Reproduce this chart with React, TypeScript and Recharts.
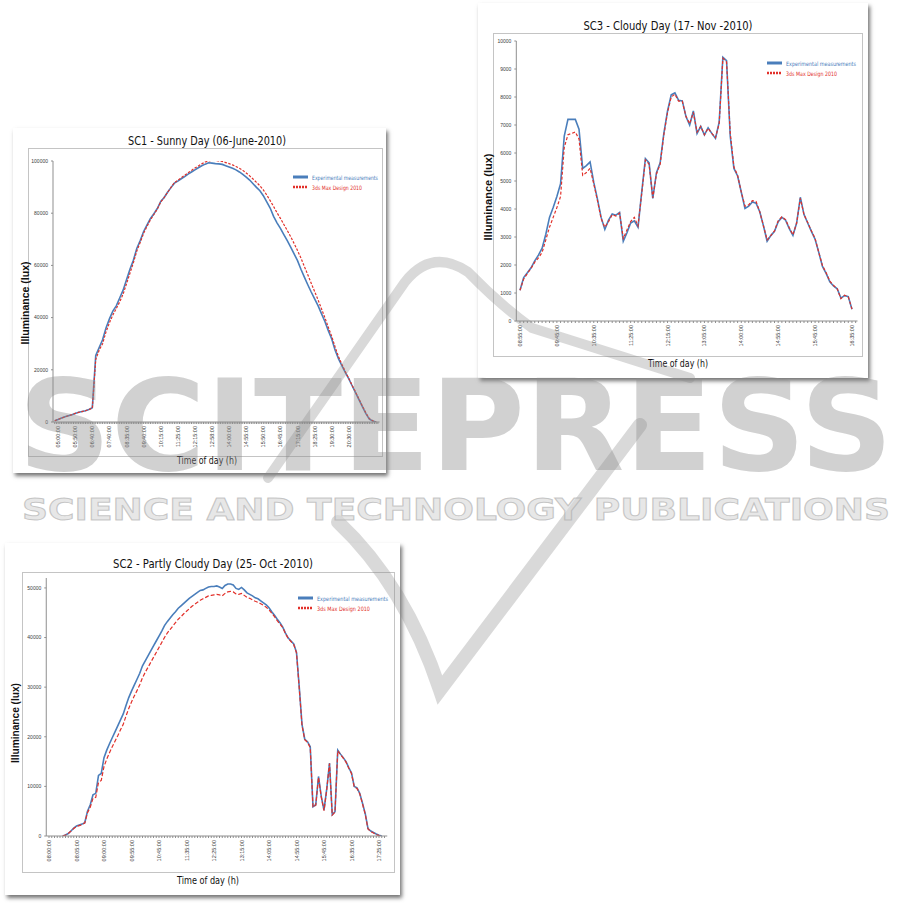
import React from "react";
import { LineChart, Line, XAxis, YAxis } from "recharts";

// ---------------- SC1 - Sunny Day ----------------
const SC1_TIME_LABELS = ["05:00:00", "05:50:00", "06:40:00", "07:40:00", "08:35:00", "09:40:00", "10:15:00", "11:25:00", "12:15:00", "12:58:00", "14:00:00", "14:55:00", "15:50:00", "16:45:00", "17:15:00", "18:25:00", "19:30:00", "20:30:00"];
const SC1_Y_TICKS = [0, 20000, 40000, 60000, 80000, 100000];
const SC1_EXP = [
  500, 1000, 1500, 2000, 2400, 2800, 3300, 3700, 4000, 4300,
  4800, 5500, 25500, 28500, 31500, 36000, 39500, 42500, 44500, 47500,
  50500, 54500, 58500, 62000, 66500, 69500, 73000, 75500, 78000, 79800,
  81800, 84500, 86000, 88000, 89800, 91500, 92300, 93200, 94000, 95000,
  95800, 96600, 97400, 98200, 98800, 99300, 99200, 99000, 98900, 98700,
  98200, 97700, 97200, 96600, 95800, 94900, 93800, 92700, 91300, 89900,
  88600, 86700, 84300, 82000, 78800, 76300, 74200, 71800, 69500, 67000,
  64400, 61800, 58500, 55500, 52600, 49800, 47200, 44600, 41500, 38500,
  35000, 31800, 27500, 24200, 21500, 18900, 16500, 13800, 11200, 8500,
  5800, 3200, 1100, 400, 0,
];
const SC1_SIM = [
  500, 1000, 1500, 2000, 2400, 2800, 3300, 3700, 4000, 4300,
  4800, 5300, 24000, 27500, 30000, 34500, 38000, 41000, 43500, 46000,
  49000, 53000, 57000, 61000, 65500, 68800, 72300, 75000, 77500, 79500,
  81600, 84300, 86000, 88000, 89900, 91700, 92600, 93600, 94500, 95500,
  96400, 97300, 98100, 98900, 99600, 100000, 100300, 100200, 100000, 99800,
  99400, 99000, 98500, 97900, 97200, 96400, 95400, 94300, 93100, 91800,
  90500, 88900, 87000, 84800, 82600, 80200, 78000, 75700, 73400, 71000,
  68400, 65700, 62800, 59600, 56400, 53200, 50000, 46800, 43400, 40000,
  36300, 32800, 28700, 25000, 22000, 19200, 16700, 14000, 11400, 8700,
  6000, 3400, 1300, 500, 0,
];

// ---------------- SC3 - Cloudy Day ----------------
const SC3_TIME_LABELS = ["08:55:00", "09:45:00", "10:35:00", "11:25:00", "12:15:00", "13:05:00", "14:00:00", "14:55:00", "15:45:00", "16:35:00"];
const SC3_Y_TICKS = [0, 1000, 2000, 3000, 4000, 5000, 6000, 7000, 8000, 9000, 10000];
const SC3_EXP = [
  1100, 1550, 1720, 1900, 2150, 2350, 2600, 3100, 3700, 4050,
  4450, 4900, 6600, 7200, 7200, 7200, 6850, 5450, 5550, 5680,
  4950, 4350, 3700, 3270, 3600, 3820, 3780, 3880, 2850, 3150,
  3500, 3580, 3350, 4600, 5800, 5650, 4380, 5300, 5650, 6700,
  7500, 8080, 8150, 7880, 7860, 7300, 7000, 7500, 6700, 6950,
  6650, 6900, 6700, 6520, 7100, 9420, 9300, 6600, 5450, 5180,
  4600, 4020, 4100, 4250, 4210, 3900, 3400, 2850, 3050, 3200,
  3550, 3700, 3600, 3300, 3060, 3500, 4420, 3800, 3500, 3200,
  2920, 2450, 1950, 1700, 1400, 1250, 1150, 820, 910, 870,
  420,
];
const SC3_SIM = [
  1100, 1500, 1700, 1880, 2100, 2250, 2450, 2900, 3350, 3700,
  4050, 4450, 6200, 6650, 6700, 6750, 6500, 5200, 5300, 5450,
  4900, 4300, 3650, 3350, 3550, 3800, 3750, 3850, 2950, 3250,
  3550, 3700, 3400, 4550, 5750, 5600, 4400, 5250, 5600, 6650,
  7450, 8000, 8100, 7850, 7850, 7300, 7050, 7450, 6750, 6950,
  6650, 6880, 6700, 6550, 7050, 9380, 9250, 6700, 5500, 5200,
  4600, 4100, 4150, 4300, 4270, 3900, 3400, 2900, 3050, 3220,
  3580, 3720, 3620, 3330, 3080, 3500, 4380, 3800, 3520, 3220,
  2950, 2450, 1980, 1720, 1420, 1270, 1150, 800, 920, 860,
  430,
];

// ---------------- SC2 - Partly Cloudy Day ----------------
const SC2_TIME_LABELS = ["08:00:00", "08:05:00", "09:00:00", "09:55:00", "10:45:00", "11:35:00", "12:25:00", "13:15:00", "14:05:00", "14:55:00", "15:45:00", "16:35:00", "17:25:00"];
const SC2_Y_TICKS = [0, 10000, 20000, 30000, 40000, 50000];
const SC2_EXP = [
  0, 200, 500, 1000, 1600, 2000, 2200, 2400, 2700, 5000,
  6300, 8300, 8600, 12200, 12600, 15800, 17300, 18600, 19800, 21000,
  22200, 23400, 24600, 26300, 27900, 29200, 30400, 31600, 32800, 34300,
  35300, 36300, 37300, 38300, 39300, 40300, 41300, 42400, 43200, 43900,
  44600, 45200, 45900, 46400, 46900, 47400, 47900, 48300, 48700, 49100,
  49500, 49600, 49900, 50200, 50300, 50300, 50400, 50200, 49900, 50500,
  50800, 50800, 50600, 49900, 49700, 50100, 49600, 49000, 48700, 48400,
  48000, 47800, 47400, 47000, 46600, 46000, 45200, 44500, 43700, 43000,
  42100, 40900, 39900, 39300, 38700, 37000, 30000, 22500, 19500, 19000,
  18000, 5900, 6300, 12000, 8000, 5200, 9500, 14700, 4300, 4900,
  17300, 16500, 15800, 15000, 13800, 12700, 10000, 9700, 8600, 6600,
  4500, 1500, 1000, 700, 400, 150, 0,
];
const SC2_SIM = [
  0, 200, 500, 1000, 1500, 1900, 2100, 2300, 2600, 4700,
  5800, 7600, 7800, 10800, 11200, 14000, 15500, 16800, 18000, 19100,
  20200, 21400, 22500, 24200, 25700, 27000, 28200, 29300, 30500, 31900,
  33000, 34000, 35000, 36000, 37000, 38000, 39000, 40000, 40900, 41600,
  42300, 43000, 43700, 44200, 44800, 45300, 45800, 46300, 46700, 47100,
  47500, 47800, 48100, 48400, 48500, 48600, 48700, 48600, 48400, 48900,
  49200, 49300, 49200, 48800, 48700, 48900, 48500, 48100, 47900, 47600,
  47300, 47100, 46800, 46500, 46100, 45600, 44900, 44200, 43400, 42700,
  42000, 40800, 39800, 39200, 38600, 36900, 29800, 22300, 19400, 18900,
  17800, 5800, 6200, 11800, 7900, 5100, 9400, 14600, 4200, 4800,
  17200, 16400, 15700, 14900, 13700, 12600, 9900, 9600, 8500, 6500,
  4400, 1400, 900, 600, 300, 100, 0,
];

const BLUE = "#4a7ebb";
const RED = "#e2302a";
const AXIS = "#8f8f8f";
const TICK_FONT = "'Liberation Sans', Arial, sans-serif";
const NARROW = "'Liberation Sans Narrow', 'DejaVu Sans Condensed', 'Liberation Sans', sans-serif";

function buildRows(exp: number[], sim: number[], start: number, step: number) {
  return exp.map((v, k) => ({ i: start + k * step, exp: v, sim: sim[k] }));
}

function intRange(a: number, b: number) {
  const r: number[] = [];
  for (let v = a; v <= b; v++) r.push(v);
  return r;
}

type ChartProps = {
  rows: { i: number; exp: number; sim: number }[];
  labels: string[];
  labelFirst: number;
  xDomain: [number, number];
  minor: number[];
  yDomain: [number, number];
  yTicks: number[];
  left: number;
  top: number;
  width: number;
  height: number;
  yWidth: number;
  xHeight: number;
  marginTop: number;
  marginRight: number;
  dash: string;
};

function Chart(p: ChartProps) {
  const renderTick = (props: any) => {
    const { x, y, payload } = props;
    const k = (payload.value - p.labelFirst) / 10;
    if (!Number.isInteger(k) || k < 0 || k >= p.labels.length) return <g />;
    return (
      <text
        x={x}
        y={y}
        transform={`rotate(-90 ${x} ${y})`}
        textAnchor="end"
        dominantBaseline="central"
        fontSize={5.5}
        fontFamily={TICK_FONT}
        fill="#3a3a3a"
      >
        {p.labels[k]}
      </text>
    );
  };
  return (
    <div style={{ position: "absolute", left: p.left, top: p.top, width: p.width, height: p.height }}>
      <LineChart
        width={p.width}
        height={p.height}
        data={p.rows}
        margin={{ top: p.marginTop, right: p.marginRight, bottom: 0, left: 0 }}
      >
        <XAxis
          type="number"
          dataKey="i"
          domain={p.xDomain}
          ticks={p.minor}
          interval={0}
          allowDataOverflow
          tick={renderTick}
          tickSize={2}
          tickMargin={2}
          stroke={AXIS}
          height={p.xHeight}
        />
        <YAxis
          type="number"
          domain={p.yDomain}
          ticks={p.yTicks}
          interval={0}
          allowDataOverflow
          width={p.yWidth}
          tickSize={2}
          tickMargin={3}
          stroke={AXIS}
          tick={{ fontSize: 5, fill: "#3a3a3a", fontFamily: TICK_FONT }}
        />
        <Line dataKey="exp" type="linear" stroke={BLUE} strokeWidth={1.6} dot={false} isAnimationActive={false} />
        <Line dataKey="sim" type="linear" stroke={RED} strokeWidth={1.2} strokeDasharray={p.dash} dot={false} isAnimationActive={false} />
      </LineChart>
    </div>
  );
}

function Paper({ l, t, r, b, il, it, ir, ib }: { l: number; t: number; r: number; b: number; il: number; it: number; ir: number; ib: number }) {
  return (
    <>
      <div
        style={{
          position: "absolute",
          left: l,
          top: t,
          width: r - l,
          height: b - t,
          background: "#fff",
          boxShadow: "2px 3px 4px rgba(0,0,0,0.55)",
        }}
      />
      <div
        style={{
          position: "absolute",
          left: il,
          top: it,
          width: ir - il,
          height: ib - it,
          border: "1px solid #c4c4c4",
          boxSizing: "border-box",
        }}
      />
    </>
  );
}

function LegendSvg({ x, y, w1, w2 }: { x: number; y: number; w1: number; w2: number }) {
  return (
    <g>
      <line x1={x} y1={y} x2={x + 15} y2={y} stroke={BLUE} strokeWidth={3} />
      <text x={x + 19} y={y} dominantBaseline="central" fontSize={6} fontFamily={NARROW} fill={BLUE} textLength={w1} lengthAdjust="spacingAndGlyphs">
        Experimental measurements
      </text>
      <line x1={x} y1={y + 10} x2={x + 15} y2={y + 10} stroke={RED} strokeWidth={2.6} strokeDasharray="2 1" />
      <text x={x + 19} y={y + 10} dominantBaseline="central" fontSize={6} fontFamily={NARROW} fill={RED} textLength={w2} lengthAdjust="spacingAndGlyphs">
        3ds Max Design 2010
      </text>
    </g>
  );
}

function Title({ x, y, w, text }: { x: number; y: number; w: number; text: string }) {
  return (
    <text x={x} y={y} textAnchor="middle" fontSize={13} fontFamily={NARROW} fill="#111" textLength={w} lengthAdjust="spacingAndGlyphs">
      {text}
    </text>
  );
}

function YTitle({ x, y, w }: { x: number; y: number; w: number }) {
  return (
    <text
      x={x}
      y={y}
      transform={`rotate(-90 ${x} ${y})`}
      textAnchor="middle"
      dominantBaseline="central"
      fontSize={11}
      fontWeight={600}
      fontFamily="'Liberation Sans', Arial, sans-serif"
      fill="#111"
      textLength={w}
      lengthAdjust="spacingAndGlyphs"
    >
      Illuminance (lux)
    </text>
  );
}

function XTitle({ x, y, w }: { x: number; y: number; w: number }) {
  return (
    <text x={x} y={y} textAnchor="middle" dominantBaseline="central" fontSize={11} fontFamily={NARROW} fill="#111" textLength={w} lengthAdjust="spacingAndGlyphs">
      Time of day (h)
    </text>
  );
}

export default function App() {
  const sc1Rows = buildRows(SC1_EXP, SC1_SIM, 0, 2);
  const sc3Rows = buildRows(SC3_EXP, SC3_SIM, 0, 1);
  const sc2Rows = buildRows(SC2_EXP, SC2_SIM, 5, 1);

  return (
    <div style={{ position: "absolute", left: 0, top: 0, width: 910, height: 903, background: "#fff", overflow: "hidden" }}>
      <Paper l={13} t={128} r={386} b={473} il={28} it={148} ir={383} ib={457} />
      <Paper l={478} t={3} r={868} b={378} il={493} it={33} ir={863} ib={357} />
      <Paper l={5} t={543} r={400} b={895} il={22} it={572} ir={395} ib={873} />

      <Chart
        rows={sc1Rows}
        labels={SC1_TIME_LABELS}
        labelFirst={2}
        xDomain={[-1, 190]}
        minor={intRange(0, 189)}
        yDomain={[0, 100000]}
        yTicks={SC1_Y_TICKS}
        left={10}
        top={140}
        width={380}
        height={320}
        yWidth={43}
        xHeight={38}
        marginTop={21}
        marginRight={10.4}
        dash="2.5 1.5"
      />
      <Chart
        rows={sc3Rows}
        labels={SC3_TIME_LABELS}
        labelFirst={0}
        xDomain={[-1, 91.5]}
        minor={intRange(0, 91)}
        yDomain={[0, 10000]}
        yTicks={SC3_Y_TICKS}
        left={475}
        top={30}
        width={390}
        height={325}
        yWidth={41.3}
        xHeight={34}
        marginTop={11}
        marginRight={7.5}
        dash="3 2"
      />
      <Chart
        rows={sc2Rows}
        labels={SC2_TIME_LABELS}
        labelFirst={0}
        xDomain={[-1, 123]}
        minor={intRange(0, 122)}
        yDomain={[0, 52000]}
        yTicks={SC2_Y_TICKS}
        left={5}
        top={565}
        width={390}
        height={305}
        yWidth={41.25}
        xHeight={34}
        marginTop={13}
        marginRight={7.75}
        dash="4 2"
      />

      <svg width={910} height={903} style={{ position: "absolute", left: 0, top: 0, pointerEvents: "none" }}>
        <Title x={207} y={145} w={158} text="SC1 - Sunny Day (06-June-2010)" />
        <Title x={668} y={30} w={169} text="SC3 - Cloudy Day (17- Nov -2010)" />
        <Title x={213} y={568} w={200} text="SC2 - Partly Cloudy Day (25- Oct -2010)" />

        <YTitle x={25} y={303} w={83} />
        <YTitle x={488} y={197} w={87} />
        <YTitle x={15} y={723} w={80} />

        <XTitle x={207} y={460} w={60} />
        <XTitle x={678} y={363} w={60} />
        <XTitle x={208} y={880} w={62} />

        <LegendSvg x={293} y={177} w1={66} w2={50} />
        <LegendSvg x={767} y={63} w1={70} w2={51} />
        <LegendSvg x={298} y={598} w1={71} w2={53} />

        {/* watermark */}
        <g opacity={0.32} fill="none" stroke="#8a8a8a" strokeLinecap="round">
          <path d="M 268 478 L 405 282 Q 432 248 468 272 Q 500 305 532 328 L 690 378" strokeWidth={10} />
          <path d="M 338 522 Q 405 585 440 690 L 640 425" strokeWidth={14} />
        </g>
        <text x={18} y={470} fontSize={126} fontWeight="bold" fontFamily="'DejaVu Sans', sans-serif" textLength={875} lengthAdjust="spacingAndGlyphs" fill="#8c8c8c" fillOpacity={0.4}>
          SCITEPRESS
        </text>
        <text x={22} y={520} fontSize={30} fontWeight="bold" fontFamily="'DejaVu Sans', sans-serif" textLength={868} lengthAdjust="spacingAndGlyphs" fill="#d8d8d8" fillOpacity={0.6} stroke="#a8a8a8" strokeOpacity={0.6} strokeWidth={1}>
          SCIENCE AND TECHNOLOGY PUBLICATIONS
        </text>
      </svg>
    </div>
  );
}
